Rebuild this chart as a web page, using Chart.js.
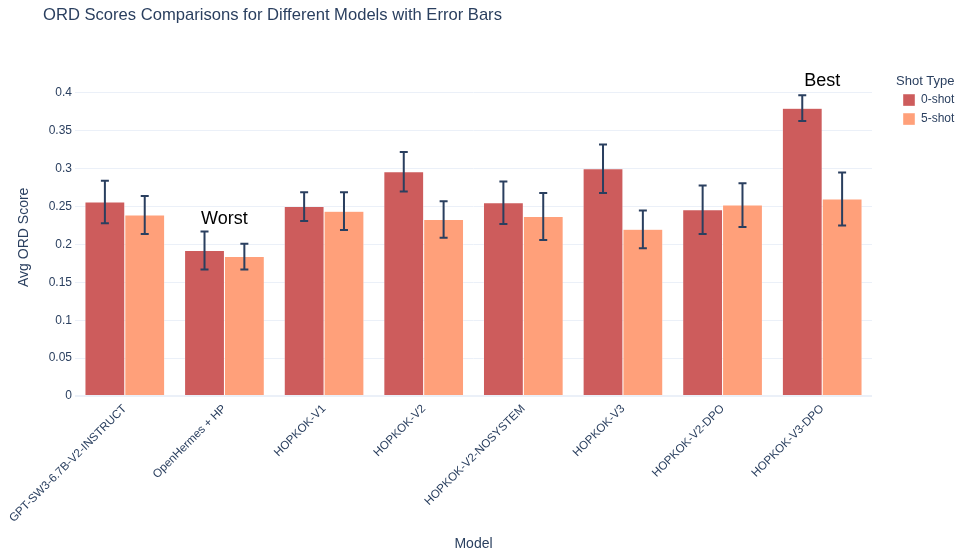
<!DOCTYPE html>
<html>
<head>
<meta charset="utf-8">
<script src="https://cdn.jsdelivr.net/npm/chart.js@4.4.1/dist/chart.umd.min.js"></script>
<style>
  html, body { margin: 0; padding: 0; background: #fff; }
  #wrap { position: relative; width: 964px; height: 554px; }
  #title { position: absolute; left: 43px; top: 5px; font-family: "Liberation Sans", Arial, sans-serif; font-size: 16.6px; color: #2a3f5f; white-space: nowrap; }
</style>
</head>
<body>
<div id="wrap">
  <canvas id="c" width="964" height="554"></canvas>
  <div id="title">ORD Scores Comparisons for Different Models with Error Bars</div>
</div>
<script>
const models = ["GPT-SW3-6.7B-V2-INSTRUCT", "OpenHermes + HP", "HOPKOK-V1", "HOPKOK-V2", "HOPKOK-V2-NOSYSTEM", "HOPKOK-V3", "HOPKOK-V2-DPO", "HOPKOK-V3-DPO"];
const seriesNames = ["0-shot", "5-shot"];
const zeroShot = [0.256, 0.192, 0.250, 0.296, 0.255, 0.300, 0.246, 0.380];
const zeroShotErr = [0.028, 0.025, 0.019, 0.026, 0.028, 0.032, 0.032, 0.017];
const fiveShot = [0.239, 0.184, 0.244, 0.233, 0.237, 0.220, 0.252, 0.260];
const fiveShotErr = [0.025, 0.017, 0.025, 0.024, 0.031, 0.025, 0.029, 0.035];
const yTicks = [0, 0.05, 0.1, 0.15, 0.2, 0.25, 0.3, 0.35, 0.4];
const annotationTexts = ["Worst", "Best"];
const annotationCategory = [1, 7];
const annotationValue = [0.234, 0.416];

const FONT = '"Liberation Sans", Arial, sans-serif';
const TEXT = '#2a3f5f';
const errs = [zeroShotErr, fiveShotErr];

const errorBarPlugin = {
  id: 'errorBars',
  afterDatasetsDraw(chart) {
    const ctx = chart.ctx;
    const y = chart.scales.y;
    ctx.save();
    ctx.strokeStyle = TEXT;
    ctx.lineWidth = 2;
    chart.data.datasets.forEach((ds, i) => {
      const meta = chart.getDatasetMeta(i);
      meta.data.forEach((bar, j) => {
        const v = ds.data[j], e = errs[i][j];
        const yt = y.getPixelForValue(v + e);
        const yb = y.getPixelForValue(v - e);
        const x = bar.x;
        ctx.beginPath();
        ctx.moveTo(x, yt); ctx.lineTo(x, yb);
        ctx.moveTo(x - 4, yt); ctx.lineTo(x + 4, yt);
        ctx.moveTo(x - 4, yb); ctx.lineTo(x + 4, yb);
        ctx.stroke();
      });
    });
    ctx.restore();
  }
};

const annotationPlugin = {
  id: 'textAnnotations',
  afterDraw(chart) {
    const ctx = chart.ctx;
    ctx.save();
    ctx.font = '18px ' + FONT;
    ctx.fillStyle = '#000';
    ctx.textAlign = 'center';
    ctx.textBaseline = 'middle';
    annotationTexts.forEach((t, k) => {
      const x = chart.scales.x.getPixelForValue(annotationCategory[k]);
      const yy = chart.scales.y.getPixelForValue(annotationValue[k]);
      ctx.fillText(t, x, yy);
    });
    ctx.restore();
  }
};

const legendPlacement = {
  id: 'legendPlacement',
  beforeUpdate(chart) {
    const lg = chart.legend;
    if (lg && !lg._fixedWidth) {
      const origFit = lg.fit.bind(lg);
      lg.fit = function () { origFit(); this.width = 92; };
      lg._fixedWidth = true;
    }
  },
  afterLayout(chart) {
    const lg = chart.legend;
    if (!lg) return;
    const dx = 24;
    const h = lg.bottom - lg.top;
    lg.left += dx; lg.right += dx;
    lg.top = 74.5; lg.bottom = lg.top + h;
  }
};

new Chart(document.getElementById('c'), {
  type: 'bar',
  data: {
    labels: models,
    datasets: [
      { label: seriesNames[0], data: zeroShot, backgroundColor: '#CD5C5C', borderColor: 'rgba(255,255,255,0.8)', borderWidth: 0.5 },
      { label: seriesNames[1], data: fiveShot, backgroundColor: '#FFA07A', borderColor: 'rgba(255,255,255,0.8)', borderWidth: 0.5 }
    ]
  },
  options: {
    responsive: false,
    animation: false,
    events: [],
    layout: { padding: { left: 0, right: 0, top: 78.6, bottom: 0 } },
    categoryPercentage: 0.8,
    barPercentage: 1.0,
    plugins: {
      title: { display: false },
      tooltip: { enabled: false },
      legend: {
        position: 'right',
        align: 'start',
        title: { display: true, text: 'Shot Type', position: 'start', color: TEXT, font: { family: FONT, size: 13 }, padding: { top: 0, bottom: -3 } },
        labels: { boxWidth: 12, boxHeight: 12, padding: 7, color: TEXT, font: { family: FONT, size: 12 } }
      }
    },
    scales: {
      x: {
        grid: { display: false, drawTicks: false },
        border: { display: false },
        ticks: { color: TEXT, font: { family: FONT, size: 11.6 }, maxRotation: 45, minRotation: 45, padding: 6, autoSkip: false },
        title: { display: true, text: 'Model', color: TEXT, font: { family: FONT, size: 14 }, padding: { top: 0, bottom: 1.6 } },
        afterFit(s) { s.height = 158; s.paddingLeft = 0; s.paddingRight = 0; }
      },
      y: {
        min: 0,
        max: 0.419,
        afterBuildTicks(s) { s.ticks = yTicks.map(v => ({ value: v })); },
        grid: {
          color: (c) => '#EBF0F8',
          lineWidth: (c) => (c.tick && c.tick.value === 0 ? 2 : 1),
          drawTicks: false
        },
        border: { display: false },
        ticks: { color: TEXT, font: { family: FONT, size: 12 }, padding: 3, callback: (v) => String(v) },
        title: { display: true, text: 'Avg ORD Score', color: TEXT, font: { family: FONT, size: 14 }, padding: { top: 15.6, bottom: 0 } },
        afterFit(s) { s.width = 75; s.paddingTop = 0; s.paddingBottom = 0; }
      }
    }
  },
  plugins: [errorBarPlugin, annotationPlugin, legendPlacement]
});
</script>
</body>
</html>
